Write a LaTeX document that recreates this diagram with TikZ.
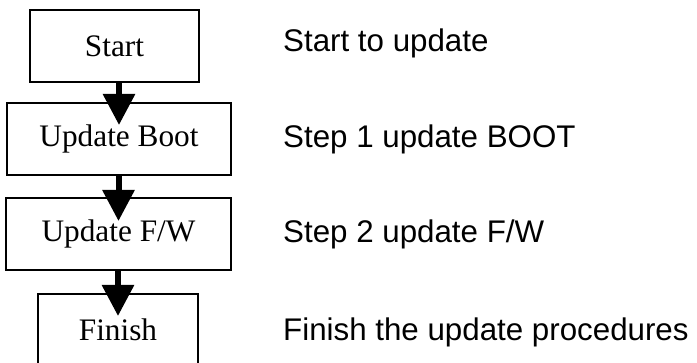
\documentclass[tikz,border=0pt]{standalone}
\usepackage{fontspec}
\setmainfont{Liberation Serif}
\newfontfamily\descfont{Liberation Sans}
\usetikzlibrary{arrows.meta}
\tikzset{
  stepbox/.style={draw=black, line width=2pt, inner sep=0pt, minimum height=72pt,
    font=\fontsize{31.3}{36}\selectfont},
  flow/.style={line width=6pt, -{Triangle[length=31pt,width=31pt]}},
  desc/.style={anchor=base west, inner sep=0pt, font=\descfont\fontsize{31.3}{36}\selectfont}
}
\begin{document}
\begin{tikzpicture}[x=1pt,y=1pt]
\useasboundingbox (0,0) rectangle (697,-363);
\clip (0,0) rectangle (697,-363);
\node[stepbox, minimum width=169pt] (start) at (114.5,-46) {Start};
\node[stepbox, minimum width=224pt] (boot) at (119,-139) {Update Boot};
\node[stepbox, minimum width=225pt] (fw) at (118.5,-234) {Update F/W};
\node[stepbox, minimum width=160pt] (fin) at (118,-330) {Finish};
\draw[flow] (boot.north |- start.south) -- ([yshift=-23pt]boot.north);
\draw[flow] (fw.north |- boot.south) -- ([yshift=-24pt]fw.north);
\draw[flow] (fin.north |- fw.south) -- ([yshift=-23pt]fin.north);
\node[desc] (d1) at (283,-52) {Start to update};
\node[desc] (d2) at (283,-148) {Step 1 update BOOT};
\node[desc] (d3) at (283,-243) {Step 2 update F/W};
\node[desc] (d4) at (283,-341) {Finish the update procedures};
\end{tikzpicture}
\end{document}
